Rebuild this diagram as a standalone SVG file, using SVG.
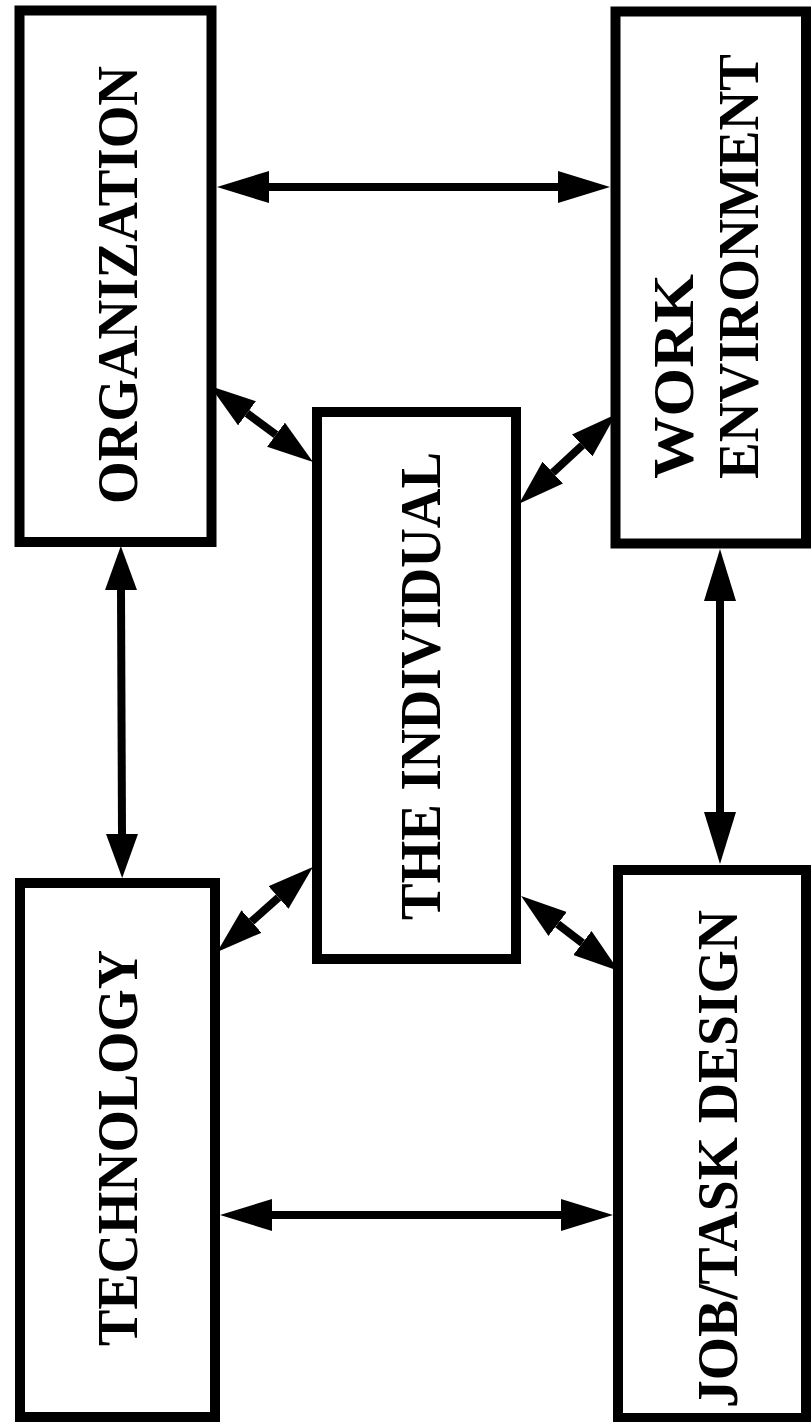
<svg xmlns="http://www.w3.org/2000/svg" width="811" height="1422" viewBox="0 0 811 1422">
<style>
.box{fill:#fff;stroke:#000;stroke-width:10}
.lbl{font-family:"Liberation Serif","Times New Roman",serif;font-weight:bold;font-size:56px;fill:#000}
.sh{stroke:#000;stroke-width:8;fill:none}
.h{marker-start:url(#ahH);marker-end:url(#ahH)}
.v{marker-start:url(#ahV);marker-end:url(#ahV)}
.d{marker-start:url(#ahD);marker-end:url(#ahD)}
</style>
<defs>
<marker id="ahH" markerUnits="userSpaceOnUse" viewBox="0 0 52 32" markerWidth="52" markerHeight="32" refX="0" refY="16" orient="auto-start-reverse"><path d="M0,0 L52,16 L0,32 z" fill="#000"/></marker>
<marker id="ahV" markerUnits="userSpaceOnUse" viewBox="0 0 44 32" markerWidth="44" markerHeight="32" refX="0" refY="16" orient="auto-start-reverse"><path d="M0,0 L44,16 L0,32 z" fill="#000"/></marker>
<marker id="ahD" markerUnits="userSpaceOnUse" viewBox="0 0 46 30" markerWidth="46" markerHeight="30" refX="0" refY="15" orient="auto-start-reverse"><path d="M0,0 L46,15 L0,30 z" fill="#000"/></marker>
</defs>
<rect width="811" height="1422" fill="#fff"/>
<g id="organization">
<rect class="box" x="19.5" y="10.5" width="192" height="531.5"/>
<text class="lbl" transform="translate(137,285) rotate(-90)" text-anchor="middle" textLength="438" lengthAdjust="spacingAndGlyphs">ORGANIZATION</text>
</g>
<g id="work-environment">
<rect class="box" x="615.5" y="11.5" width="190.5" height="532"/>
<text class="lbl" transform="translate(693,479) rotate(-90)" textLength="205" lengthAdjust="spacingAndGlyphs">WORK</text>
<text class="lbl" transform="translate(758,479) rotate(-90)" textLength="425" lengthAdjust="spacingAndGlyphs">ENVIRONMENT</text>
</g>
<g id="the-individual">
<rect class="box" x="317" y="412" width="199" height="547"/>
<text class="lbl" transform="translate(440,686) rotate(-90)" text-anchor="middle" textLength="468" lengthAdjust="spacingAndGlyphs">THE INDIVIDUAL</text>
</g>
<g id="technology">
<rect class="box" x="20" y="883" width="195" height="534"/>
<text class="lbl" transform="translate(137,1148) rotate(-90)" text-anchor="middle" textLength="396" lengthAdjust="spacingAndGlyphs">TECHNOLOGY</text>
</g>
<g id="job-task-design">
<rect class="box" x="618" y="870" width="188" height="548"/>
<text class="lbl" transform="translate(737,1159) rotate(-90)" text-anchor="middle" textLength="498" lengthAdjust="spacingAndGlyphs">JOB/TASK DESIGN</text>
</g>
<g id="connectors">
<line class="sh h" x1="269" y1="187" x2="558" y2="187"/>
<line class="sh h" x1="272" y1="1215" x2="561" y2="1215"/>
<line class="sh v" x1="121" y1="590" x2="122" y2="834"/>
<line class="sh h" x1="720" y1="601" x2="720" y2="812"/>
<line class="sh d" x1="247" y1="413.3" x2="276" y2="434.7"/>
<line class="sh d" x1="582.2" y1="445.4" x2="552.8" y2="472.6"/>
<line class="sh d" x1="278.5" y1="897.5" x2="251.5" y2="921.5"/>
<line class="sh d" x1="557.6" y1="924" x2="582.4" y2="943"/>
</g>
</svg>
